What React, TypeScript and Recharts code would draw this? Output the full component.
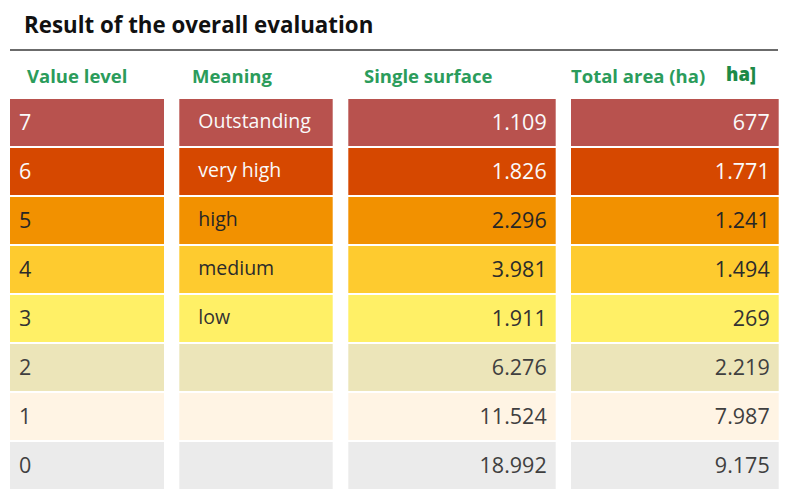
import { BarChart, Bar, XAxis, YAxis, Cell, LabelList } from "recharts"

const levels = ["7", "6", "5", "4", "3", "2", "1", "0"]
const meanings = ["Outstanding", "very high", "high", "medium", "low", "", "", ""]
const singleSurface = [1109, 1826, 2296, 3981, 1911, 6276, 11524, 18992]
const totalArea = [677, 1771, 1241, 1494, 269, 2219, 7987, 9175]
const headers = ["Value level", "Meaning", "Single surface", "Total area (ha)"]

const rowFill = ["#b8524e", "#d64800", "#f29100", "#fecb2f", "#fff066", "#ece5b9", "#fff4e4", "#ebebeb"]
const rowText = ["#fafafa", "#fafafa", "#262626", "#2b2b2b", "#333333", "#3f3f3f", "#3f3f3f", "#3f3f3f"]
const GREEN = "#2b9c5b"
const FONT = '"Open Sans", sans-serif'

// column layout along the x axis (domain 0..800 = page pixels)
const LEFT = 10
const COLS = [154, 153.4, 207.4, 207.7]
const GAPS = [15.3, 15.6, 15.3]
const HEAD_X = [27, 192, 364, 571]

// German thousands separator
const fmt = (v: number) => String(v).replace(/\B(?=(\d{3})+(?!\d))/g, ".")

const rows = levels.map((level, i) => ({
  level,
  meaning: meanings[i],
  single: fmt(singleSurface[i]),
  total: fmt(totalArea[i]),
  pad: LEFT,
  c0: COLS[0],
  g0: GAPS[0],
  c1: COLS[1],
  g1: GAPS[1],
  c2: COLS[2],
  g2: GAPS[2],
  c3: COLS[3],
}))

const cellLabel = (align: "left" | "right", inset: number, size: number, dy: number) => (props: any) => {
  const { x, y, width, height, value, index } = props
  if (!value) return null
  const right = align === "right"
  return (
    <text
      x={right ? x + width - inset : x + inset}
      y={y + height / 2 + dy}
      textAnchor={right ? "end" : "start"}
      fill={rowText[index]}
      fontSize={size}
      fontFamily={FONT}
    >
      {value}
    </text>
  )
}

const colBar = (key: string, labelKey: string, label: (p: any) => any) => (
  <Bar dataKey={key} stackId="row" isAnimationActive={false}>
    {rows.map((_, i) => (
      <Cell key={i} fill={rowFill[i]} />
    ))}
    <LabelList dataKey={labelKey} content={label} />
  </Bar>
)

const gapBar = (key: string) => <Bar dataKey={key} stackId="row" fill="transparent" isAnimationActive={false} />

export default function App() {
  return (
    <div style={{ position: "absolute", left: 0, top: 0, width: 800, height: 498, background: "#fff" }}>
      <BarChart
        width={800}
        height={498}
        data={rows}
        layout="vertical"
        margin={{ top: 98, right: 0, bottom: 8, left: 0 }}
        barCategoryGap={1}
      >
        <XAxis type="number" domain={[0, 800]} hide />
        <YAxis type="category" dataKey="level" hide />
        {gapBar("pad")}
        {colBar("c0", "level", cellLabel("left", 9, 21.5, 7.5))}
        {gapBar("g0")}
        {colBar("c1", "meaning", cellLabel("left", 19, 19.5, 5.5))}
        {gapBar("g1")}
        {colBar("c2", "single", cellLabel("right", 9, 21.5, 7.5))}
        {gapBar("g2")}
        {colBar("c3", "total", cellLabel("right", 9, 21.5, 7.5))}
      </BarChart>
      <svg width={800} height={98} style={{ position: "absolute", left: 0, top: 0 }}>
        <text x={24} y={33} fontSize={22.3} fontWeight={700} fontFamily={FONT} fill="#111">
          Result of the overall evaluation
        </text>
        <line x1={10} x2={778} y1={50} y2={50} stroke="#6b6b6b" strokeWidth={2} />
        {headers.map((h, i) => (
          <text key={h} x={HEAD_X[i]} y={83} fontSize={18.5} fontWeight={700} fontFamily={FONT} fill={GREEN}>
            {h}
          </text>
        ))}
        <text x={726} y={81} fontSize={18.5} fontWeight={800} fontFamily={FONT} fill="#1d8a47">
          ha]
        </text>
      </svg>
    </div>
  )
}
